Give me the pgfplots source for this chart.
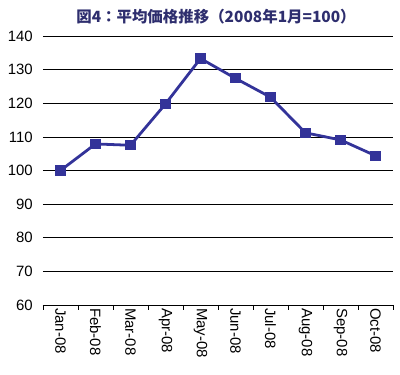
\documentclass[border=0pt]{standalone}
\usepackage{pgfplots}
\pgfplotsset{compat=1.18}
\usepackage{fontspec}
\setmainfont{Liberation Sans}
\newfontfamily\cjk{Noto Sans CJK JP}
\definecolor{lineblue}{HTML}{333399}
\definecolor{titleblue}{HTML}{2E2E6E}
\begin{document}
\begin{tikzpicture}
\begin{axis}[
  name=ax,
  scale only axis,
  width=350bp, height=269bp,
  xmin=-0.5, xmax=9.5, ymin=60, ymax=140,
  ytick={60,70,...,140},
  xtick={-0.5,0.5,...,9.5},
  x tick label as interval,
  xticklabels={Jan-08,Feb-08,Mar-08,Apr-08,May-08,Jun-08,Jul-08,Aug-08,Sep-08,Oct-08},
  xtick style={draw=none},
  xtick pos=bottom,
  xticklabel style={rotate=-90, anchor=west, font=\fontsize{15}{15}\selectfont, inner sep=2pt},
  yticklabel style={font=\fontsize{15}{15}\selectfont, inner sep=2pt},
  /pgf/number format/assume math mode=true,
  ymajorgrids, grid style={black, line width=0.6pt},
  axis line style={draw=none},
  ytick style={draw=none},
  yticklabel shift=8bp,
  xticklabel shift=1bp,
  clip=false,
]
\addplot[lineblue, line width=2.8pt, mark=square*, mark size=4.6bp, mark options={solid, fill=lineblue, draw=lineblue, line width=0pt}]
coordinates {(0,100) (1,107.9) (2,107.5) (3,119.8) (4,133.3) (5,127.4) (6,121.8) (7,111.2) (8,109.1) (9,104.4)};
\draw[black, line width=0.6pt] (axis cs:-0.5,60) -- (axis cs:9.5,60);
\pgfplotsinvokeforeach{-0.5,0.5,1.5,2.5,3.5,4.5,5.5,6.5,7.5,8.5,9.5}{
  \draw[black, line width=0.6pt] (axis cs:#1,60) -- ([yshift=-5bp]axis cs:#1,60);
}
\end{axis}
\node[font=\cjk\bfseries\fontsize{15.5}{15.5}\selectfont, text=titleblue] at ([xshift=-2bp, yshift=19bp]ax.north) {図4：平均価格推移（2008年1月=100）};
\path ([xshift=-43bp,yshift=-70bp]ax.south west) rectangle ([xshift=7bp,yshift=36bp]ax.north east);
\end{tikzpicture}
\end{document}
